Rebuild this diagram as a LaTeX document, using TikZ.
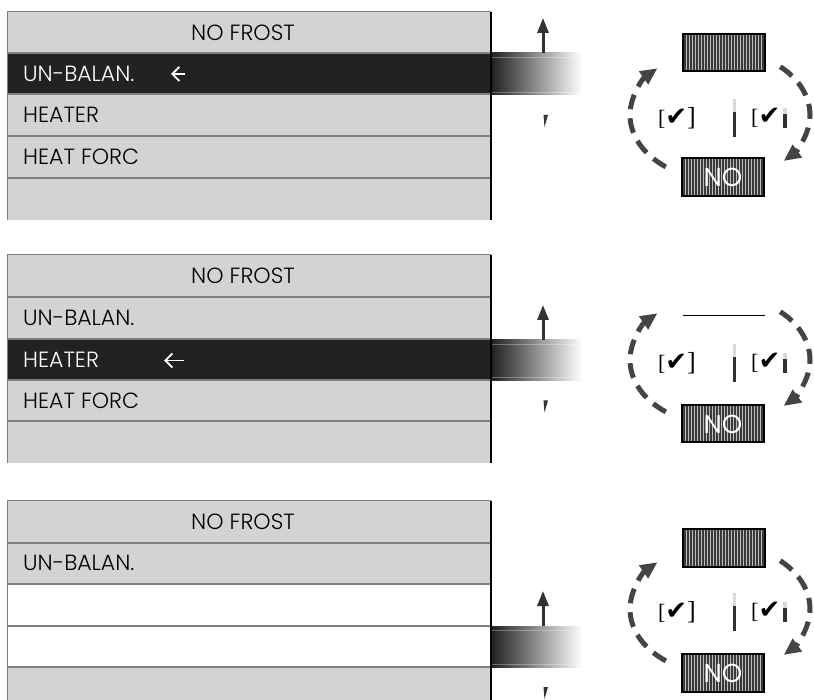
\documentclass[tikz,border=0pt]{standalone}
\usepackage{fontspec}
\setmainfont{Poppins Light}
\newfontfamily\symfont{DejaVu Sans}
\newfontfamily\brfont{Liberation Serif}
\newfontfamily\nofont{Poppins}
\usetikzlibrary{arrows.meta}
\definecolor{panelgrey}{HTML}{D3D3D3}
\definecolor{seldark}{HTML}{222222}
\definecolor{divgrey}{HTML}{7F7F7F}
\definecolor{arrowgrey}{HTML}{333333}
\definecolor{dashgrey}{HTML}{444444}
\definecolor{stripe}{HTML}{3A3A3A}
\definecolor{stripelight}{HTML}{BDBDBD}
\tikzset{
  rowtext/.style={anchor=west, inner sep=0pt, font=\fontsize{22}{26}\selectfont, text=black},
  seltext/.style={rowtext, text=white},
  titletext/.style={inner sep=0pt, font=\fontsize{22}{26}\selectfont, text=black},
  divider/.style={draw=divgrey, line width=2pt},
  leftedge/.style={draw=divgrey, line width=1pt},
  rightedge/.style={draw=black, line width=1.5pt},
  uparrow/.style={draw=arrowgrey, line width=3pt, -{Triangle[length=15pt,width=11pt]}},
  selarrow/.style={draw=white, line width=1.8pt, -{Straight Barb[length=7pt,width=14pt]}},
  cyclearc/.style={draw=dashgrey, line width=5pt, dash pattern=on 15pt off 9pt, -{Triangle[length=17pt,width=15pt]}},
  checktext/.style={inner sep=0pt, font=\fontsize{22}{24}\selectfont},
  notext/.style={inner sep=0pt, text=white, font=\nofont\fontsize{26}{28}\selectfont},
  hatchborder/.style={draw=black, line width=1.2pt},
  minibar/.style={fill=arrowgrey},
  minibartop/.style={fill=black!15},
}
\newcommand\hatchbox[4]{%
  \fill[white] (#1,#2) rectangle (#3,#4);
  \foreach \ii in {0,...,26} {\draw[stripelight, line width=0.8pt] ({#1+3.5+\ii*3},#2) -- ({#1+3.5+\ii*3},#4);}
  \foreach \ii in {0,...,26} {\draw[stripe, line width=1.3pt] ({#1+2+\ii*3},#2) -- ({#1+2+\ii*3},#4);}
  \draw[hatchborder] (#1,#2) rectangle (#3,#4);
}
\newcommand\gradbar[3]{% top, bottom, name
  \shade[left color=seldark, right color=white] (492,#1) rectangle (582,#2);
  \draw[white, opacity=0.3, line width=0.8pt] (492,{#1+4}) -- (582,{#1+4});
  \draw[white, opacity=0.3, line width=0.8pt] (492,{#2-3}) -- (582,{#2-3});
  \coordinate (#3s) at (543,#1);
  \coordinate (#3e) at (543,{#1-35});
  \draw[uparrow] (#3s) -- (#3e);
  \fill[arrowgrey] (543.5,{#2+20}) -- (548,{#2+20}) -- (544.5,{#2+32}) -- cycle;
}
\newcommand\widget[2]{% C (check centre y), name
  \coordinate (#2c) at (720,{#1-3});
  \draw[cyclearc] (#2c) ++(127:90 and 65) arc[start angle=127, end angle=226, x radius=90, y radius=65];
  \draw[cyclearc] (#2c) ++(-48:90 and 65) arc[start angle=-48, end angle=45, x radius=90, y radius=65];
  \node[checktext] (#2cl) at (677,#1) {\brfont[\symfont\fontsize{26}{26}\selectfont✔\brfont]};
  \node[checktext, anchor=west] (#2cr) at (751,#1) {\brfont[\symfont\fontsize{26}{26}\selectfont✔};
  \fill[minibartop] (733,{#1-19}) rectangle (736,{#1-6});
  \fill[minibar] (733,{#1-6}) rectangle (736,{#1+19});
  \fill[minibartop] (783,{#1-10}) rectangle (787,{#1-4});
  \fill[minibar] (783,{#1-4}) rectangle (787,{#1+10});
}
\begin{document}
\begin{tikzpicture}[x=1pt, y=-1pt]
\useasboundingbox (0,0) rectangle (814,700);

% ---------- panel 1 ----------
\fill[panelgrey] (7.5,12) rectangle (491,220);
\fill[seldark] (7.5,53) rectangle (491,94.5);
\draw[leftedge] (491,12) -- (7.5,12) -- (7.5,220);
\foreach \yy in {53,94.5,136,178} {\draw[divider] (7.5,\yy) -- (491,\yy);}
\draw[rightedge] (491,12) -- (491,220);
\node[titletext] (p1t) at (243,32.5) {NO FROST};
\node[seltext] (p1r1) at (23,73.75) {UN-BALAN.};
\node[rowtext] (p1r2) at (23,115.25) {HEATER};
\node[rowtext] (p1r3) at (23,157) {HEAT FORC};
\coordinate (p1as) at (185,74);
\coordinate (p1ae) at (171,74);
\draw[selarrow] (p1as) -- (p1ae);
\gradbar{53}{95}{p1g}
\hatchbox{683}{34}{765}{71}
\hatchbox{682}{158}{764}{196}
\node[notext] (p1no) at (723,177) {NO};
\widget{118}{p1w}

% ---------- panel 2 ----------
\fill[panelgrey] (7.5,255) rectangle (491,463);
\fill[seldark] (7.5,339) rectangle (491,380.5);
\draw[leftedge] (491,255) -- (7.5,255) -- (7.5,463);
\foreach \yy in {297.5,339,380.5,421.5} {\draw[divider] (7.5,\yy) -- (491,\yy);}
\draw[rightedge] (491,255) -- (491,463);
\node[titletext] (p2t) at (243,276) {NO FROST};
\node[rowtext] (p2r1) at (23,318.25) {UN-BALAN.};
\node[seltext] (p2r2) at (23,359.75) {HEATER};
\node[rowtext] (p2r3) at (23,401) {HEAT FORC};
\coordinate (p2as) at (184,360.5);
\coordinate (p2ae) at (164,360.5);
\draw[selarrow] (p2as) -- (p2ae);
\gradbar{340}{380.5}{p2g}
\coordinate (p2la) at (683,316);
\coordinate (p2lb) at (765,316);
\draw[black, line width=1pt] (p2la) -- (p2lb);
\hatchbox{682}{405}{764}{442}
\node[notext] (p2no) at (723,424) {NO};
\widget{363}{p2w}

% ---------- panel 3 ----------
\fill[panelgrey] (7.5,500.5) rectangle (491,708);
\fill[white] (7.5,584) rectangle (491,666.5);
\draw[leftedge] (491,500.5) -- (7.5,500.5) -- (7.5,708);
\foreach \yy in {542.5,584,625.5,666.5} {\draw[divider] (7.5,\yy) -- (491,\yy);}
\draw[rightedge] (491,500.5) -- (491,708);
\node[titletext] (p3t) at (243,521.5) {NO FROST};
\node[rowtext] (p3r1) at (23,563.25) {UN-BALAN.};
\gradbar{626}{667}{p3g}
\hatchbox{683}{529}{765}{567}
\hatchbox{682}{654}{764}{692}
\node[notext] (p3no) at (723,673) {NO};
\widget{612}{p3w}
\end{tikzpicture}
\end{document}
